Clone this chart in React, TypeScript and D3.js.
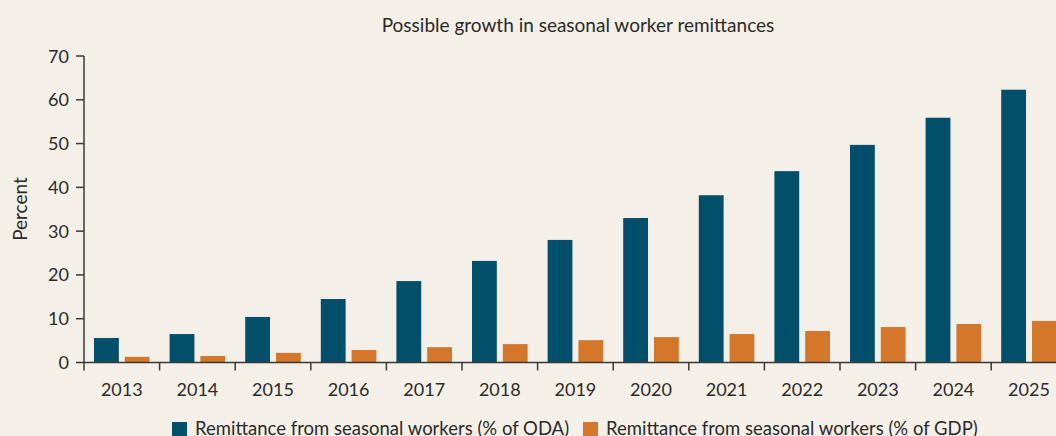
import React from "react";
import * as d3 from "d3";

const years = ["2013","2014","2015","2016","2017","2018","2019","2020","2021","2022","2023","2024","2025"];
const odaValues = [5.6, 6.5, 10.4, 14.5, 18.6, 23.2, 28.0, 33.0, 38.2, 43.7, 49.7, 55.9, 62.3];
const gdpValues = [1.3, 1.5, 2.2, 2.85, 3.5, 4.2, 5.1, 5.8, 6.5, 7.2, 8.1, 8.8, 9.5];
const seriesNames = ["Remittance from seasonal workers (% of ODA)", "Remittance from seasonal workers (% of GDP)"];
const yTicks = [0, 10, 20, 30, 40, 50, 60, 70];
const title = "Possible growth in seasonal worker remittances";
const yLabel = "Percent";

const W = 1056, H = 436;
const BG = "#f4f0e8";
const BLUE = "#00506b";
const ORANGE = "#d4772a";
const TEXT = "#2b2a29";
const AXIS = "#3a3838";
const FONT = "Lato, 'Open Sans', sans-serif";

export default function App() {
  const x0 = 84;
  const step = 75.6;
  const x = d3.scaleBand<string>().domain(years).range([x0, x0 + step * years.length]).padding(0);
  const inner = d3.scaleBand<number>().domain([0, 1]).range([10, step - 10]).paddingInner(6 / 31).paddingOuter(0);
  const y = d3.scaleLinear().domain([0, 70]).range([362.5, 56]);
  const colors = [BLUE, ORANGE];
  const series = [odaValues, gdpValues];

  return (
    <svg width={W} height={H} style={{ position: "absolute", left: 0, top: 0, display: "block" }} fontFamily={FONT}>
      <rect x={0} y={0} width={W} height={H} fill={BG} />
      <text x={578} y={32} textAnchor="middle" fontSize={19} fill={TEXT}>{title}</text>
      <text transform={`translate(27,209) rotate(-90)`} textAnchor="middle" fontSize={19} fill={TEXT}>{yLabel}</text>
      {series.map((vals, si) =>
        vals.map((v, i) => (
          <rect key={`${si}-${i}`} x={(x(years[i]) as number) + (inner(si) as number)} y={y(v)} width={inner.bandwidth()} height={y(0) - y(v)} fill={colors[si]} />
        ))
      )}
      {/* y axis */}
      <line x1={x0} x2={x0} y1={y(70)} y2={y(0)} stroke={AXIS} strokeWidth={1.5} />
      {yTicks.map((t) => (
        <g key={t}>
          <line x1={x0 - 8} x2={x0} y1={y(t)} y2={y(t)} stroke={AXIS} strokeWidth={1.5} />
          <text x={x0 - 15} y={y(t) + 6.5} textAnchor="end" fontSize={18} fill={TEXT}>{t}</text>
        </g>
      ))}
      {/* x axis */}
      <line x1={x0} x2={W} y1={y(0)} y2={y(0)} stroke={AXIS} strokeWidth={1.5} />
      {years.map((yr) => (
        <g key={yr}>
          <line x1={x(yr) as number} x2={x(yr) as number} y1={y(0)} y2={y(0) + 8} stroke={AXIS} strokeWidth={1.5} />
          <text x={(x(yr) as number) + x.bandwidth() / 2} y={396} textAnchor="middle" fontSize={18} fill={TEXT}>{yr}</text>
        </g>
      ))}
      {/* legend */}
      {[172, 583].map((lx, i) => (
        <g key={i}>
          <rect x={lx} y={422} width={15} height={15} fill={colors[i]} />
          <text x={lx + 23} y={435} fontSize={18.5} fill={TEXT}>{seriesNames[i]}</text>
        </g>
      ))}
    </svg>
  );
}
